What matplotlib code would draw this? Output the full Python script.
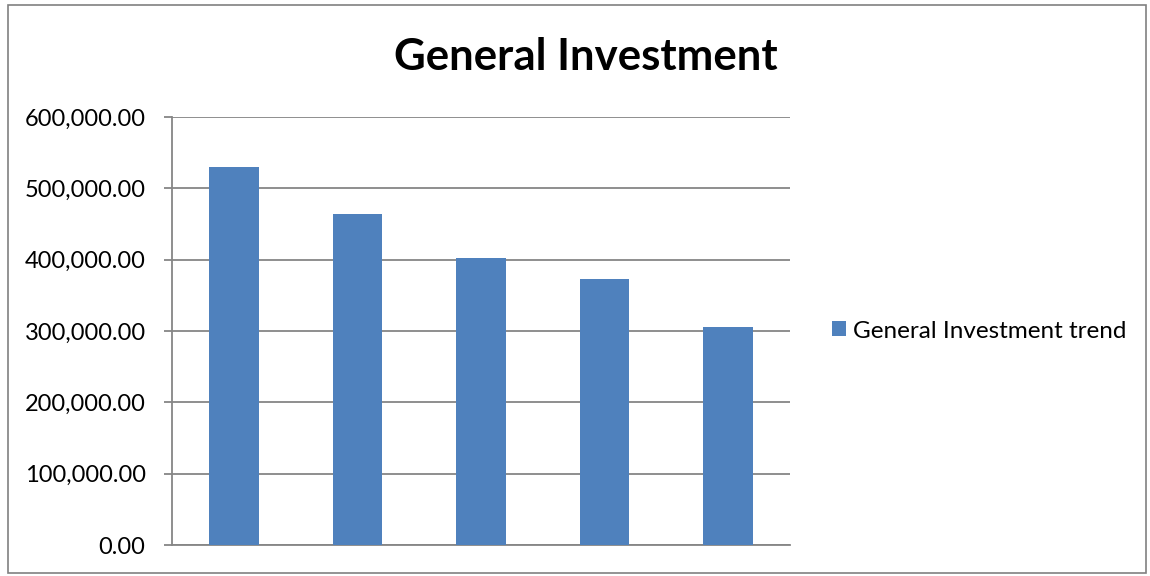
import matplotlib
matplotlib.use("Agg")
import matplotlib.pyplot as plt
from matplotlib.patches import Rectangle
from matplotlib.ticker import FuncFormatter

categories = ["1", "2", "3", "4", "5"]
values = [530000, 463500, 402500, 372500, 305000]
series_name = "General Investment trend"
title = "General Investment"
y_ticks = [0, 100000, 200000, 300000, 400000, 500000, 600000]

plt.rcParams["font.family"] = ["Lato", "DejaVu Sans"]

fig = plt.figure(figsize=(11.5, 5.76), dpi=100)
ax = fig.add_axes([172 / 1150, 1 - 545 / 576, (790 - 172) / 1150, (545 - 117) / 576])

grid_c = "#868686"
x = range(len(categories))
ax.bar(x, values, width=0.40, color="#4F81BD", label=series_name, zorder=3)

ax.set_xlim(-0.5, len(categories) - 0.5)
ax.set_ylim(0, 600000)
ax.set_yticks(y_ticks)
ax.yaxis.set_major_formatter(FuncFormatter(lambda v, p: f"{v:,.2f}"))
ax.set_xticks([])
ax.grid(axis="y", color=grid_c, linewidth=1.3, zorder=0)
ax.tick_params(axis="y", direction="out", length=6, width=1.3, color=grid_c,
               labelsize=17, pad=13, labelcolor="black")
for side in ("top", "right"):
    ax.spines[side].set_visible(False)
for side in ("left", "bottom"):
    ax.spines[side].set_color(grid_c)
    ax.spines[side].set_linewidth(1.3)

fig.text(586 / 1150, 1 - 57 / 576, title, ha="center", va="center",
         fontsize=31.5, fontweight="bold")

ax.legend(loc="center left", bbox_to_anchor=(832 / 1150, 1 - 331 / 576),
          bbox_transform=fig.transFigure, frameon=False, fontsize=17.5,
          borderaxespad=0, borderpad=0,
          handlelength=0.58, handleheight=0.58, handletextpad=0.3)

fig.patches.append(Rectangle((8 / 1150, 3 / 576), 1138 / 1150, 568 / 576,
                             transform=fig.transFigure, fill=False,
                             edgecolor="#808080", linewidth=1.2))

fig.savefig("out.png", dpi=100)
